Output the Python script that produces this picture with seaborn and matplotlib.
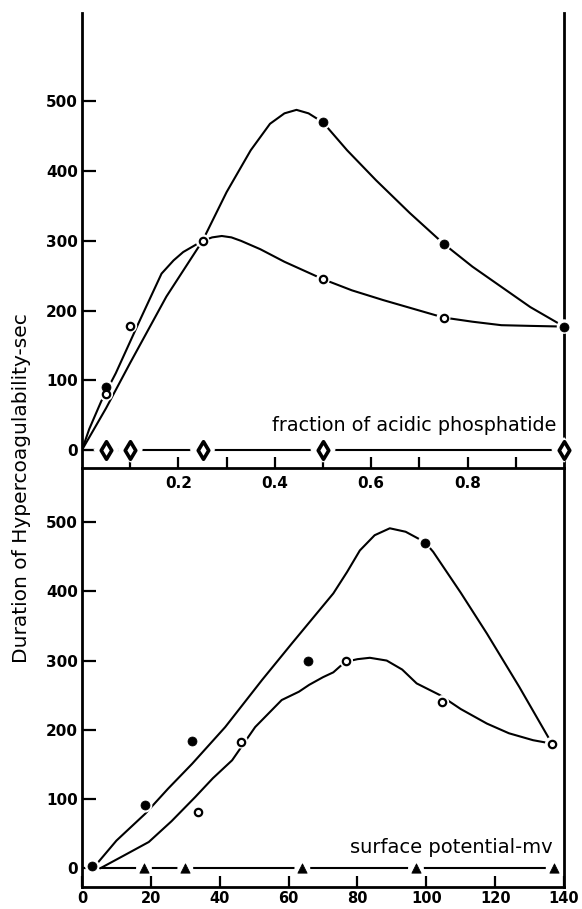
import numpy as np
import seaborn as sns
import matplotlib.pyplot as plt

# top panel: fraction of acidic phosphatide
frac_filled_x = [0.05, 0.5, 0.75, 1.0]
frac_filled_y = [90, 470, 295, 177]
frac_open_x = [0.05, 0.1, 0.25, 0.5, 0.75]
frac_open_y = [80, 178, 300, 245, 190]
frac_diamond_x = [0.05, 0.1, 0.25, 0.5, 1.0]
frac_diamond_y = [0, 0, 0, 0, 0]

# hand-drawn curves
frac_filled_curve_x = [0.0, 0.05, 0.1, 0.175, 0.25, 0.3, 0.35, 0.39, 0.42, 0.445, 0.47, 0.5,
                       0.55, 0.61, 0.68, 0.75, 0.81, 0.87, 0.93, 1.0]
frac_filled_curve_y = [0, 60, 125, 220, 300, 370, 430, 468, 483, 488, 483, 470,
                       430, 387, 340, 296, 263, 234, 205, 177]
frac_open_curve_x = [0.0, 0.015, 0.04, 0.07, 0.12, 0.165, 0.19, 0.21, 0.25, 0.27, 0.29, 0.31,
                     0.33, 0.37, 0.42, 0.5, 0.56, 0.625, 0.69, 0.75, 0.81, 0.87, 0.93, 1.0]
frac_open_curve_y = [0, 30, 70, 110, 186, 253, 272, 284, 300, 305, 307, 305,
                     300, 288, 270, 245, 229, 215, 202, 190, 184, 179, 178, 177]
frac_zero_x = [0.0, 0.05, 0.1, 0.25, 0.5, 1.0]
frac_zero_y = [0, 0, 0, 0, 0, 0]

# bottom panel: surface potential (mv)
mv_filled_x = [3, 18.3, 32, 65.7, 99.6]
mv_filled_y = [3, 91, 184, 300, 470]
mv_open_x = [33.6, 46.2, 76.7, 104.6, 136.5]
mv_open_y = [81, 183, 300, 240, 180]
mv_tri_x = [18, 30, 64, 97, 137]
mv_tri_y = [0, 0, 0, 0, 0]

mv_filled_curve_x = [4.4, 10, 18.4, 25, 32, 41.6, 52.3, 61, 66, 73, 77, 80.7, 85, 89.4,
                     94, 99.6, 102, 110, 117.6, 127, 136.5]
mv_filled_curve_y = [7, 40, 79, 115, 151, 204, 272, 325, 355, 397, 428, 459, 481, 491,
                     486, 471, 457, 398, 339, 262, 180]
mv_open_curve_x = [5.3, 12, 19.4, 26, 32.9, 38, 43.6, 50.3, 58, 63, 66, 70, 73, 76.4, 80,
                   83.6, 88.5, 93, 97.2, 104, 110, 117.6, 124, 131, 136.5]
mv_open_curve_y = [0, 18, 38, 68, 103, 130, 156, 204, 243, 255, 265, 276, 283, 298, 302,
                   304, 300, 287, 267, 250, 230, 209, 195, 185, 180]
mv_zero_x = [5, 18, 30, 64, 97, 137]
mv_zero_y = [0, 0, 0, 0, 0, 0]

sns.set_style("ticks")
plt.rcParams['font.family'] = ['DejaVu Sans']
plt.rcParams['text.color'] = 'black'

fig = plt.figure(figsize=(5.82, 9.09), dpi=100)
ax1 = fig.add_axes([0.1409, 0.4851, 0.8282, 0.5006])
ax2 = fig.add_axes([0.1409, 0.0242, 0.8282, 0.4609])
# keep the upper panel's tick labels visible over the lower panel
ax1.set_zorder(ax2.get_zorder() + 1)
ax1.patch.set_visible(False)


def curve(ax, x, y):
    sns.lineplot(x=x, y=y, ax=ax, color='black', lw=1.5, sort=False,
                 estimator=None, zorder=2)


def points(ax, x, y, kind):
    # white halo leaves the little gap around each mark, as in the drawing
    halo = {'filled': 110, 'open': 100, 'diamond': 170, 'tri': 130}[kind]
    sns.scatterplot(x=x, y=y, ax=ax, s=halo, color='white', edgecolor='none',
                    marker='D' if kind == 'diamond' else 'o', zorder=3,
                    legend=False, clip_on=False)
    if kind == 'filled':
        sns.scatterplot(x=x, y=y, ax=ax, s=42, color='black', edgecolor='black',
                        zorder=4, legend=False, clip_on=False)
    elif kind == 'open':
        sns.scatterplot(x=x, y=y, ax=ax, s=28, color='white', edgecolor='black',
                        linewidth=1.6, zorder=4, legend=False, clip_on=False)
    elif kind == 'diamond':
        sns.scatterplot(x=x, y=y, ax=ax, s=80, marker='d', color='white',
                        edgecolor='black', linewidth=2.6, zorder=4, legend=False,
                        clip_on=False)
    else:
        sns.scatterplot(x=x, y=y, ax=ax, s=45, marker='^', color='black',
                        edgecolor='black', zorder=4, legend=False, clip_on=False)


# top panel
curve(ax1, frac_filled_curve_x, frac_filled_curve_y)
curve(ax1, frac_open_curve_x, frac_open_curve_y)
curve(ax1, frac_zero_x, frac_zero_y)
points(ax1, frac_filled_x, frac_filled_y, 'filled')
points(ax1, frac_open_x, frac_open_y, 'open')
points(ax1, frac_diamond_x, frac_diamond_y, 'diamond')

# bottom panel
curve(ax2, mv_filled_curve_x, mv_filled_curve_y)
curve(ax2, mv_open_curve_x, mv_open_curve_y)
curve(ax2, mv_zero_x, mv_zero_y)
points(ax2, mv_filled_x, mv_filled_y, 'filled')
points(ax2, mv_open_x, mv_open_y, 'open')
points(ax2, mv_tri_x, mv_tri_y, 'tri')

frac_ticks = [0.1, 0.2, 0.3, 0.4, 0.5, 0.6, 0.7, 0.8, 0.9]
frac_labels = ['', '0.2', '', '0.4', '', '0.6', '', '0.8', '']
mv_ticks = [0, 20, 40, 60, 80, 100, 120, 140]
y_ticks = [0, 100, 200, 300, 400, 500]

ax1.set_xlim(0, 1.0)
ax1.set_ylim(-26, 627)
ax1.set_xticks(frac_ticks)
ax1.set_xticklabels(frac_labels)
ax2.set_xlim(0, 140)
ax2.set_ylim(-27, 578)
ax2.set_xticks(mv_ticks)
ax2.set_xticklabels([str(t) for t in mv_ticks])

for ax in (ax1, ax2):
    ax.set_yticks(y_ticks)
    ax.set_yticklabels([str(t) for t in y_ticks])
    ax.set_xlabel('')
    ax.set_ylabel('')
    ax.spines['top'].set_visible(False)
    for side in ('left', 'right', 'bottom'):
        ax.spines[side].set_visible(True)
        ax.spines[side].set_linewidth(2)
        ax.spines[side].set_color('black')
    ax.tick_params(axis='y', direction='in', length=10, width=1.6, pad=3,
                   labelsize=11, colors='black')
    ax.tick_params(axis='x', direction='in', length=8, width=1.6, pad=6,
                   labelsize=11, colors='black')

ax2.tick_params(axis='x', pad=3, labelsize=10.5)
for ax in (ax1, ax2):
    for lab in ax.get_xticklabels() + ax.get_yticklabels():
        lab.set_fontweight('bold')

ax1.text(0.985, 35, 'fraction of acidic phosphatide', ha='right', va='center',
         fontsize=13.8, color='black')
ax2.text(136.6, 30, 'surface potential-mv', ha='right', va='center', fontsize=14,
         color='black')

fig.text(0.037, 0.4626, 'Duration of Hypercoagulability-sec', rotation=90,
         ha='center', va='center', fontsize=14.5, color='black')

fig.savefig('out.png', dpi=100)
